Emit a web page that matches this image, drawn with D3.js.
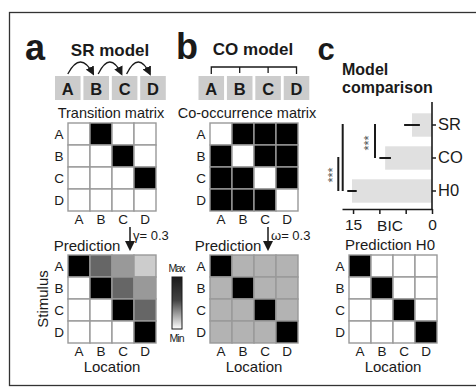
<!DOCTYPE html>
<html>
<head>
<meta charset="utf-8">
<script src="https://cdn.jsdelivr.net/npm/d3@7"></script>
<style>
  body { margin: 0; background: #fff; }
  svg { display: block; font-family: "Liberation Sans", Arial, Helvetica, sans-serif; }
</style>
</head>
<body>
<svg width="476" height="387"></svg>
<script>
// ---- data ----
const labels = ['A', 'B', 'C', 'D'];

const transition = [
  [0, 1, 0, 0],
  [0, 0, 1, 0],
  [0, 0, 0, 1],
  [0, 0, 0, 0]
];
const cooccurrence = [
  [0, 1, 1, 1],
  [1, 0, 1, 1],
  [1, 1, 0, 1],
  [1, 1, 1, 0]
];
const predSR = [
  [1, 0.6, 0.4, 0.2],
  [0, 1, 0.6, 0.4],
  [0, 0, 1, 0.6],
  [0, 0, 0, 1]
];
const predCO = [
  [1, 0.3, 0.3, 0.3],
  [0.3, 1, 0.3, 0.3],
  [0.3, 0.3, 1, 0.3],
  [0.3, 0.3, 0.3, 1]
];
const predH0 = [
  [1, 0, 0, 0],
  [0, 1, 0, 0],
  [0, 0, 1, 0],
  [0, 0, 0, 1]
];

const models = ['SR', 'CO', 'H0'];
const bic = [3.8, 8.9, 15.2];
const bicErr = [1.5, 1.1, 0.9];
const bicTicks = [0, 5, 10, 15];
const bicTickLabels = { 0: '0', 15: '15' };
const sigPairs = [['SR', 'H0'], ['CO', 'H0'], ['SR', 'CO']];

// ---- setup ----
const ink = '#1a1a1a';
const svg = d3.select('svg');

svg.append('rect')
  .attr('x', 9.5).attr('y', 12.5)
  .attr('width', 520).attr('height', 373)
  .attr('fill', 'none').attr('stroke', '#333').attr('stroke-width', 1.3);

const shade = d3.scaleLinear().domain([0, 1]).range(['#ffffff', '#000000']);

const defs = svg.append('defs');
defs.append('marker')
  .attr('id', 'head')
  .attr('viewBox', '0 0 10 10')
  .attr('refX', 8).attr('refY', 5)
  .attr('markerWidth', 7).attr('markerHeight', 7)
  .attr('orient', 'auto')
  .append('path')
  .attr('d', 'M0,0 L10,5 L0,10 Z')
  .attr('fill', ink);

const grad = defs.append('linearGradient')
  .attr('id', 'cbar')
  .attr('x1', 0).attr('y1', 0).attr('x2', 0).attr('y2', 1);
grad.append('stop').attr('offset', '0%').attr('stop-color', '#1a1a1a');
grad.append('stop').attr('offset', '45%').attr('stop-color', '#444');
grad.append('stop').attr('offset', '100%').attr('stop-color', '#fff');

function label(x, y, txt, size, opts = {}) {
  return svg.append('text')
    .attr('x', x).attr('y', y)
    .attr('text-anchor', opts.anchor || 'middle')
    .attr('font-size', size)
    .attr('font-weight', opts.bold ? 'bold' : 'normal')
    .attr('fill', ink)
    .text(txt);
}

function drawMatrix(values, x0, y0, withXTitle) {
  const bx = d3.scaleBand().domain(labels).range([x0, x0 + 88]);
  const by = d3.scaleBand().domain(labels).range([y0, y0 + 88]);
  const g = svg.append('g');
  const cells = [];
  values.forEach((row, i) => row.forEach((v, j) => cells.push({ r: labels[i], c: labels[j], v })));
  g.selectAll('rect')
    .data(cells)
    .join('rect')
    .attr('x', d => bx(d.c))
    .attr('y', d => by(d.r))
    .attr('width', bx.bandwidth())
    .attr('height', by.bandwidth())
    .attr('fill', d => shade(d.v))
    .attr('stroke', '#999')
    .attr('stroke-width', 1.4);
  g.selectAll('text.row')
    .data(labels)
    .join('text')
    .attr('class', 'row')
    .attr('x', x0 - 9)
    .attr('y', d => by(d) + by.bandwidth() / 2 + 5)
    .attr('text-anchor', 'middle')
    .attr('font-size', 13.5)
    .attr('fill', ink)
    .text(d => d);
  g.selectAll('text.col')
    .data(labels)
    .join('text')
    .attr('class', 'col')
    .attr('x', d => bx(d) + bx.bandwidth() / 2)
    .attr('y', y0 + 88 + 13)
    .attr('text-anchor', 'middle')
    .attr('font-size', 13.5)
    .attr('fill', ink)
    .text(d => d);
  if (withXTitle) label(x0 + 44, y0 + 117, 'Location', 15);
}

function drawBoxes(x0) {
  const bx = d3.scaleBand().domain(labels).range([x0, x0 + 110.8]).paddingInner(0.1);
  svg.append('g').selectAll('rect')
    .data(labels)
    .join('rect')
    .attr('x', d => bx(d)).attr('y', 76)
    .attr('width', bx.bandwidth()).attr('height', 24)
    .attr('fill', '#cccccc');
  svg.append('g').selectAll('text')
    .data(labels)
    .join('text')
    .attr('x', d => bx(d) + bx.bandwidth() / 2)
    .attr('y', 94.5)
    .attr('text-anchor', 'middle')
    .attr('font-size', 16.5)
    .attr('font-weight', 'bold')
    .attr('fill', ink)
    .text(d => d);
  return bx;
}

function downArrow(x, txt) {
  svg.append('line')
    .attr('x1', x).attr('y1', 227).attr('x2', x).attr('y2', 249)
    .attr('stroke', ink).attr('stroke-width', 1.5)
    .attr('marker-end', 'url(#head)');
  label(x + 3, 240, txt, 13, { anchor: 'start' });
}

// ---- panel a ----
label(35, 60, 'a', 36, { bold: true });
label(110, 56, 'SR model', 17, { bold: true });
const boxA = drawBoxes(55);
labels.slice(0, 3).forEach((l, i) => {
  const x1 = boxA(l) + boxA.bandwidth() / 2 + (i === 0 ? 0 : 2);
  const x2 = boxA(labels[i + 1]) + boxA.bandwidth() / 2 - 3;
  svg.append('path')
    .attr('d', `M${x1},74 Q${(x1 + x2) / 2},50 ${x2},74`)
    .attr('fill', 'none').attr('stroke', ink).attr('stroke-width', 1.3)
    .attr('marker-end', 'url(#head)');
});
label(111, 118, 'Transition matrix', 14.5);
drawMatrix(transition, 68, 123, false);
downArrow(130, 'γ= 0.3');
label(87, 251, 'Prediction', 15);
drawMatrix(predSR, 68, 255, true);
svg.append('text')
  .attr('transform', 'translate(48,299) rotate(-90)')
  .attr('text-anchor', 'middle')
  .attr('font-size', 15)
  .attr('fill', ink)
  .text('Stimulus');

// colour bar
svg.append('rect')
  .attr('x', 172).attr('y', 277).attr('width', 10).attr('height', 52)
  .attr('fill', 'url(#cbar)').attr('stroke', ink).attr('stroke-width', 1);
svg.append('text').attr('x', 177).attr('y', 272).attr('text-anchor', 'middle')
  .attr('font-size', 10.5).attr('fill', ink).attr('textLength', 17).text('Max');
svg.append('text').attr('x', 177).attr('y', 342).attr('text-anchor', 'middle')
  .attr('font-size', 10.5).attr('fill', ink).attr('textLength', 15).text('Min');

// ---- panel b ----
label(187, 59, 'b', 36, { bold: true });
label(253, 55, 'CO model', 17, { bold: true });
const boxB = drawBoxes(198.5);
const bc = labels.map(l => boxB(l) + boxB.bandwidth() / 2);
svg.append('path')
  .attr('d', `M${bc[0]},74 V67 H${bc[3]} V74`)
  .attr('fill', 'none').attr('stroke', ink).attr('stroke-width', 1.3);
svg.append('g').selectAll('line')
  .data(bc.slice(1, 3))
  .join('line')
  .attr('x1', d => d).attr('x2', d => d).attr('y1', 67).attr('y2', 73)
  .attr('stroke', ink).attr('stroke-width', 1.3);
label(247, 118, 'Co-occurrence matrix', 14.5);
drawMatrix(cooccurrence, 210, 123, false);
downArrow(268, 'ω= 0.3');
label(228, 251, 'Prediction', 15);
drawMatrix(predCO, 210, 255, true);

// ---- panel c ----
label(326, 60, 'c', 31, { bold: true });
label(342, 75, 'Model', 16, { bold: true, anchor: 'start' });
label(342, 93, 'comparison', 16, { bold: true, anchor: 'start' });

const bx = d3.scaleLinear().domain([0, 17.1]).range([432, 342]);
const by = d3.scaleBand().domain(models).range([108.5, 207.5]).paddingInner(0.29).paddingOuter(0.145);

const chart = svg.append('g');
chart.selectAll('rect')
  .data(models)
  .join('rect')
  .attr('x', (d, i) => bx(bic[i]))
  .attr('y', d => by(d))
  .attr('width', (d, i) => bx(0) - bx(bic[i]))
  .attr('height', by.bandwidth())
  .attr('fill', '#e0e0e0');
chart.selectAll('line.err')
  .data(models)
  .join('line')
  .attr('class', 'err')
  .attr('x1', (d, i) => bx(bic[i] - bicErr[i]))
  .attr('x2', (d, i) => bx(bic[i] + bicErr[i]))
  .attr('y1', d => by(d) + by.bandwidth() / 2)
  .attr('y2', d => by(d) + by.bandwidth() / 2)
  .attr('stroke', ink).attr('stroke-width', 2);

const yAxis = svg.append('g')
  .attr('transform', 'translate(432,0)')
  .call(d3.axisRight(by).tickSize(4).tickSizeOuter(0).tickPadding(2));
yAxis.select('.domain').remove();
yAxis.selectAll('text').attr('font-size', 16.5).attr('fill', ink).attr('font-family', null);
yAxis.selectAll('line').attr('stroke', ink).attr('stroke-width', 1.5);
svg.append('line')
  .attr('x1', 432).attr('x2', 432).attr('y1', 102).attr('y2', 210)
  .attr('stroke', ink).attr('stroke-width', 1.6);

const xAxis = svg.append('g')
  .attr('transform', 'translate(0,209)')
  .call(d3.axisBottom(bx).tickValues(bicTicks).tickSize(5).tickSizeOuter(0).tickPadding(5)
    .tickFormat(d => bicTickLabels[d] || ''));
xAxis.select('.domain').attr('stroke', ink).attr('stroke-width', 1.6);
xAxis.selectAll('text').attr('font-size', 15.5).attr('fill', ink).attr('font-family', null);
xAxis.selectAll('line').attr('stroke', ink).attr('stroke-width', 1.5);
label(390, 231, 'BIC', 15.5);

// significance lines
const sigX = [342.7, 338.3, 375];
const yc = m => by(m) + by.bandwidth() / 2;
svg.append('g').selectAll('line')
  .data(sigPairs)
  .join('line')
  .attr('x1', (d, i) => sigX[i]).attr('x2', (d, i) => sigX[i])
  .attr('y1', d => yc(d[0]) - 1).attr('y2', d => yc(d[1]))
  .attr('stroke', ink).attr('stroke-width', 2);
[[332, 175], [368, 143]].forEach(([x, y]) => {
  svg.append('text')
    .attr('transform', `translate(${x},${y}) rotate(-90)`)
    .attr('text-anchor', 'middle')
    .attr('dy', '0.35em')
    .attr('font-size', 13)
    .attr('fill', '#555')
    .text('***');
});

label(390, 250, 'Prediction H0', 15);
drawMatrix(predH0, 349, 255, true);
</script>
</body>
</html>
